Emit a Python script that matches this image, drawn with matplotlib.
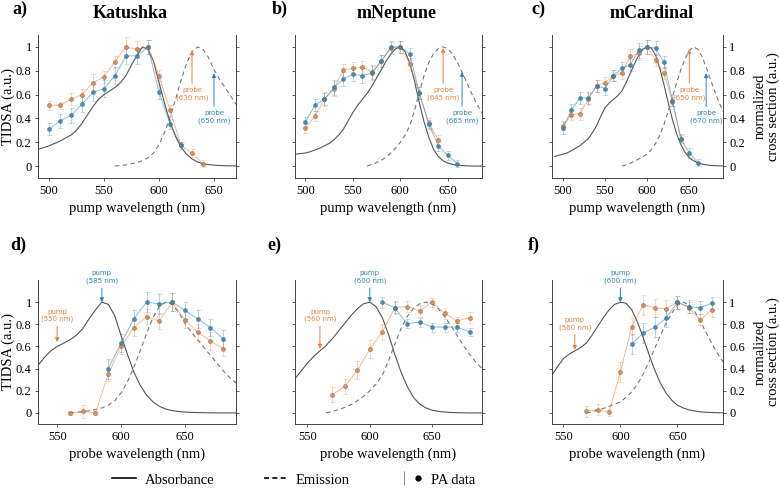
import numpy as np
import matplotlib
matplotlib.use('Agg')
import matplotlib.pyplot as plt
from matplotlib.lines import Line2D
from matplotlib.legend_handler import HandlerTuple
from matplotlib.colors import to_rgba
from matplotlib.ticker import FuncFormatter

plt.rcParams['font.family'] = 'Liberation Serif'

orange = '#E8823A'
blue = '#2A88BC'

# spectra, 5 nm grid
wl_abs = np.arange(490, 695, 5)
kat_abs = [0.14, 0.155, 0.17, 0.19, 0.21, 0.235, 0.26, 0.30, 0.36, 0.43, 0.50, 0.56, 0.60, 0.63,
           0.66, 0.70, 0.76, 0.85, 0.93, 1.0, 0.98, 0.88, 0.70, 0.53, 0.37, 0.25, 0.16, 0.10,
           0.06, 0.035, 0.02, 0.013, 0.008, 0.005, 0.003, 0.002, 0.001, 0.0, 0.0, 0.0, 0.0]
nep_abs = [0.10, 0.105, 0.11, 0.12, 0.135, 0.15, 0.17, 0.19, 0.22, 0.26, 0.31, 0.38, 0.45, 0.51,
           0.56, 0.61, 0.67, 0.74, 0.81, 0.88, 0.94, 0.985, 1.0, 0.96, 0.86, 0.71, 0.53, 0.37,
           0.24, 0.14, 0.08, 0.045, 0.025, 0.014, 0.008, 0.004, 0.002, 0.001, 0.0, 0.0, 0.0]
car_abs = [0.08, 0.09, 0.10, 0.11, 0.13, 0.15, 0.17, 0.20, 0.23, 0.28, 0.34, 0.42, 0.49, 0.53,
           0.56, 0.59, 0.63, 0.70, 0.78, 0.86, 0.93, 0.98, 1.0, 0.99, 0.93, 0.82, 0.68, 0.53,
           0.39, 0.27, 0.18, 0.115, 0.07, 0.045, 0.028, 0.017, 0.01, 0.006, 0.004, 0.002, 0.001]

kat_em_wl = np.arange(560, 695, 5)
kat_em = [0.0, 0.005, 0.01, 0.02, 0.03, 0.045, 0.07, 0.11, 0.18, 0.28, 0.41, 0.56, 0.72, 0.86,
          0.96, 1.0, 0.98, 0.91, 0.81, 0.73, 0.66, 0.59, 0.52, 0.45, 0.38, 0.32, 0.27]
nep_em_wl = np.arange(565, 695, 5)
nep_em = [0.0, 0.015, 0.03, 0.05, 0.075, 0.11, 0.15, 0.2, 0.26, 0.34, 0.47, 0.62, 0.76, 0.87,
          0.945, 0.985, 1.0, 0.985, 0.94, 0.87, 0.79, 0.70, 0.61, 0.53, 0.46, 0.40]
car_em_wl = np.arange(570, 695, 5)
car_em = [0.0, 0.01, 0.025, 0.04, 0.06, 0.08, 0.1, 0.14, 0.19, 0.26, 0.35, 0.46, 0.58, 0.7,
          0.81, 0.9, 0.97, 1.0, 0.98, 0.92, 0.83, 0.73, 0.63, 0.54, 0.46]

# PA data vs pump wavelength (top row)
kat_pump_o_x = np.arange(500, 650, 10)
kat_pump_o = [0.51, 0.51, 0.56, 0.60, 0.70, 0.75, 0.875, 1.0, 0.98, 1.0, 0.76, 0.47, 0.175, 0.11, 0.02]
kat_pump_o_err = [0.04, 0.03, 0.05, 0.05, 0.07, 0.05, 0.05, 0.08, 0.07, 0.06, 0.05, 0.04, 0.03, 0.03, 0.03]
kat_pump_b_x = np.arange(500, 630, 10)
kat_pump_b = [0.31, 0.38, 0.425, 0.52, 0.62, 0.65, 0.76, 0.925, 0.925, 1.0, 0.62, 0.355, 0.175]
kat_pump_b_err = [0.05, 0.06, 0.06, 0.07, 0.07, 0.07, 0.07, 0.07, 0.07, 0.06, 0.06, 0.04, 0.03]

nep_pump_o_x = np.arange(500, 650, 10)
nep_pump_o = [0.32, 0.42, 0.56, 0.65, 0.81, 0.82, 0.83, 0.79, 0.88, 0.99, 1.0, 0.86, 0.61, 0.36, 0.22]
nep_pump_o_err = [0.04, 0.04, 0.06, 0.06, 0.05, 0.05, 0.05, 0.06, 0.05, 0.05, 0.05, 0.05, 0.05, 0.04, 0.04]
nep_pump_b_x = np.arange(500, 670, 10)
nep_pump_b = [0.37, 0.51, 0.56, 0.66, 0.73, 0.77, 0.76, 0.78, 0.88, 1.0, 1.0, 0.94, 0.61, 0.35, 0.17, 0.09, 0.02]
nep_pump_b_err = [0.04, 0.05, 0.05, 0.06, 0.06, 0.06, 0.06, 0.06, 0.05, 0.05, 0.05, 0.05, 0.05, 0.04, 0.04, 0.04, 0.03]

car_pump_o_x = np.arange(500, 650, 10)
car_pump_o = [0.34, 0.43, 0.44, 0.56, 0.675, 0.70, 0.76, 0.78, 0.92, 0.95, 1.0, 0.89, 0.78, 0.54, 0.23]
car_pump_o_err = [0.04, 0.04, 0.05, 0.05, 0.05, 0.05, 0.05, 0.05, 0.06, 0.06, 0.06, 0.05, 0.05, 0.04, 0.03]
car_pump_b_x = np.arange(500, 670, 10)
car_pump_b = [0.32, 0.47, 0.57, 0.57, 0.675, 0.65, 0.76, 0.82, 0.85, 0.97, 1.0, 0.99, 0.87, 0.55, 0.23, 0.11, 0.03]
car_pump_b_err = [0.05, 0.05, 0.05, 0.05, 0.05, 0.05, 0.05, 0.05, 0.05, 0.06, 0.06, 0.06, 0.05, 0.05, 0.04, 0.04, 0.03]

# PA data vs probe wavelength (bottom row)
kat_probe_o_x = np.arange(560, 690, 10)
kat_probe_o = [0.0, 0.015, 0.0, 0.35, 0.6, 0.77, 0.87, 0.83, 1.0, 0.84, 0.73, 0.65, 0.58]
kat_probe_o_err = [0.02, 0.06, 0.02, 0.06, 0.07, 0.08, 0.07, 0.07, 0.08, 0.07, 0.07, 0.08, 0.07]
kat_probe_b_x = np.arange(590, 690, 10)
kat_probe_b = [0.40, 0.63, 0.85, 1.0, 0.985, 1.0, 0.925, 0.85, 0.77, 0.67]
kat_probe_b_err = [0.09, 0.08, 0.08, 0.09, 0.09, 0.08, 0.08, 0.08, 0.08, 0.08]

nep_probe_o_x = np.arange(570, 690, 10)
nep_probe_o = [0.165, 0.24, 0.385, 0.575, 0.73, 0.95, 0.96, 0.92, 1.0, 0.9, 0.83, 0.86]
nep_probe_o_err = [0.07, 0.07, 0.08, 0.08, 0.07, 0.06, 0.05, 0.05, 0.04, 0.05, 0.04, 0.05]
nep_probe_b_x = np.arange(610, 690, 10)
nep_probe_b = [1.0, 0.95, 0.805, 0.82, 0.775, 0.775, 0.775, 0.73]
nep_probe_b_err = [0.05, 0.05, 0.04, 0.04, 0.04, 0.04, 0.04, 0.04]

car_probe_o_x = np.arange(570, 690, 10)
car_probe_o = [0.015, 0.03, 0.005, 0.37, 0.78, 0.975, 0.95, 0.94, 1.0, 0.95, 0.84, 0.93]
car_probe_o_err = [0.05, 0.05, 0.03, 0.09, 0.08, 0.09, 0.08, 0.08, 0.06, 0.05, 0.05, 0.06]
car_probe_b_x = np.arange(610, 690, 10)
car_probe_b = [0.625, 0.72, 0.775, 0.855, 1.0, 0.96, 0.95, 0.99]
car_probe_b_err = [0.09, 0.09, 0.09, 0.08, 0.06, 0.06, 0.06, 0.06]

titles = ['Katushka', 'mNeptune', 'mCardinal']
letters = ['a)', 'b)', 'c)', 'd)', 'e)', 'f)']

fig = plt.figure(figsize=(7.79, 4.92), dpi=100)

W, H = 779, 492
cols = [(38, 198), (295, 187), (552, 171)]


def pos(col, top, bottom):
    x0, w = cols[col]
    return [x0 / W, 1 - bottom / H, w / W, (bottom - top) / H]


def style(ax, xlim, ylim, xticks, left_labels, right_labels):
    ax.set_xlim(*xlim)
    ax.set_ylim(*ylim)
    ax.set_xticks(xticks)
    ax.set_yticks([0, 0.2, 0.4, 0.6, 0.8, 1.0])
    ax.yaxis.set_major_formatter(FuncFormatter(lambda v, _: f'{v:g}'))
    for s in ['left', 'right', 'bottom']:
        ax.spines[s].set_color('#444444')
        ax.spines[s].set_linewidth(0.7)
    ax.spines['top'].set_visible(False)
    ax.tick_params(axis='y', left=True, right=True, labelleft=left_labels,
                   labelright=right_labels, direction='out', length=2.5, width=0.6,
                   color='#444444', labelsize=9, pad=2)
    ax.tick_params(axis='x', direction='out', length=2, width=0.6, color='#444444',
                   labelsize=9, pad=3)


def draw_data(ax, x, y, err, c):
    ax.plot(x, y, color=c, lw=0.7, alpha=0.55, zorder=3)
    ax.errorbar(x, y, yerr=err, fmt='none', ecolor=to_rgba(c, 0.35), elinewidth=0.7,
                capsize=1.8, capthick=0.6, zorder=3)
    ax.plot(x, y, ls='none', marker='o', ms=3.0, color=c, mec='#666666', mew=0.3,
            alpha=0.9, zorder=4)


def note(ax, text, tip, ytext, c):
    ax.annotate(text, xy=tip, xytext=(tip[0], ytext), ha='center', va='center',
                fontsize=5, color=c, family='DejaVu Sans', annotation_clip=False,
                arrowprops=dict(arrowstyle='-|>', color=c, lw=0.7, mutation_scale=6,
                                shrinkA=1, shrinkB=0))


proteins = [
    dict(abs=kat_abs, em_x=kat_em_wl, em=kat_em,
         top=(kat_pump_o_x, kat_pump_o, kat_pump_o_err, kat_pump_b_x, kat_pump_b, kat_pump_b_err),
         bot=(kat_probe_o_x, kat_probe_o, kat_probe_o_err, kat_probe_b_x, kat_probe_b, kat_probe_b_err),
         xlim_top=(490, 670), probes=(630, 650), pumps=(550, 585)),
    dict(abs=nep_abs, em_x=nep_em_wl, em=nep_em,
         top=(nep_pump_o_x, nep_pump_o, nep_pump_o_err, nep_pump_b_x, nep_pump_b, nep_pump_b_err),
         bot=(nep_probe_o_x, nep_probe_o, nep_probe_o_err, nep_probe_b_x, nep_probe_b, nep_probe_b_err),
         xlim_top=(489, 686), probes=(645, 665), pumps=(560, 600)),
    dict(abs=car_abs, em_x=car_em_wl, em=car_em,
         top=(car_pump_o_x, car_pump_o, car_pump_o_err, car_pump_b_x, car_pump_b, car_pump_b_err),
         bot=(car_probe_o_x, car_probe_o, car_probe_o_err, car_probe_b_x, car_probe_b, car_probe_b_err),
         xlim_top=(487, 690), probes=(650, 670), pumps=(560, 600)),
]

bot_xlims = [(535, 690), (540, 690), (540, 690)]
orange_pump_tip = [0.64, 0.58, 0.57]
orange_pump_text = [0.88, 0.88, 0.805]
probe_tips = [(0.97, 0.78), (0.99, 0.79), (0.98, 0.78)]

for i, p in enumerate(proteins):
    for row in range(2):
        if row == 0:
            ax = fig.add_axes(pos(i, 35, 178))
            ox, oy, oe, bx, by, be = p['top']
        else:
            ax = fig.add_axes(pos(i, 280, 424))
            ox, oy, oe, bx, by, be = p['bot']
        ax.plot(wl_abs, p['abs'], color='#555555', lw=0.8, zorder=2)
        ax.plot(p['em_x'], p['em'], color='#777777', lw=0.8, ls=(0, (4, 3)), zorder=2)
        draw_data(ax, ox, oy, oe, orange)
        draw_data(ax, bx, by, be, blue)
        if row == 0:
            po, pb = p['probes']
            note(ax, f'probe\n({po} nm)', (po, probe_tips[i][0]), 0.605, orange)
            note(ax, f'probe\n({pb} nm)', (pb, probe_tips[i][1]), 0.41, blue)
            style(ax, p['xlim_top'], (-0.1, 1.1), [500, 550, 600, 650], i == 0, i == 2)
            ax.set_xlabel('pump wavelength (nm)', fontsize=10.5, labelpad=3)
        else:
            uo, ub = p['pumps']
            note(ax, f'pump\n({uo} nm)', (uo, orange_pump_tip[i]), orange_pump_text[i], orange)
            note(ax, f'pump\n({ub} nm)', (ub, 1.0), 1.225, blue)
            style(ax, bot_xlims[i], (-0.1, 1.2), [550, 600, 650], i == 0, i == 2)
            ax.set_xlabel('probe wavelength (nm)', fontsize=10.5, labelpad=3)
        if i == 0:
            ax.set_ylabel('TIDSA (a.u.)', fontsize=10.5, labelpad=1)
        if i == 2:
            ax.yaxis.set_label_position('right')
            ax.set_ylabel('normalized\ncross section (a.u.)', fontsize=10.5, labelpad=6,
                          linespacing=1.0)

# titles and panel letters
title_x = [130, 397, 652]
for i, t in enumerate(titles):
    fig.text(title_x[i] / W, 1 - 14 / H, t, ha='center', va='center', fontsize=13,
             fontweight='bold')
letter_pos = [(12, 9), (272, 9), (531, 9), (10, 245), (267, 245), (528, 245)]
for (x, y), l in zip(letter_pos, letters):
    fig.text(x / W, 1 - y / H, l, ha='left', va='center', fontsize=13, fontweight='bold')

# legend
h_abs = Line2D([], [], color='black', lw=1.2)
h_em = Line2D([], [], color='black', lw=1.2, ls=(0, (3, 2)))
h_pa = (Line2D([], [], color='#888888', marker='|', ms=10, ls='none', mew=0.7),
        Line2D([], [], color='black', marker='o', ms=3.5, ls='none'))
fig.legend([h_abs, h_em, h_pa], ['Absorbance', 'Emission', 'PA data'],
           handler_map={tuple: HandlerTuple(ndivide=None)},
           loc='center', bbox_to_anchor=(294 / W, 1 - 480 / H), ncol=3, frameon=False,
           fontsize=10.5, handlelength=1.6, handletextpad=0.6, columnspacing=3.4)

fig.savefig('out.png', dpi=100)
